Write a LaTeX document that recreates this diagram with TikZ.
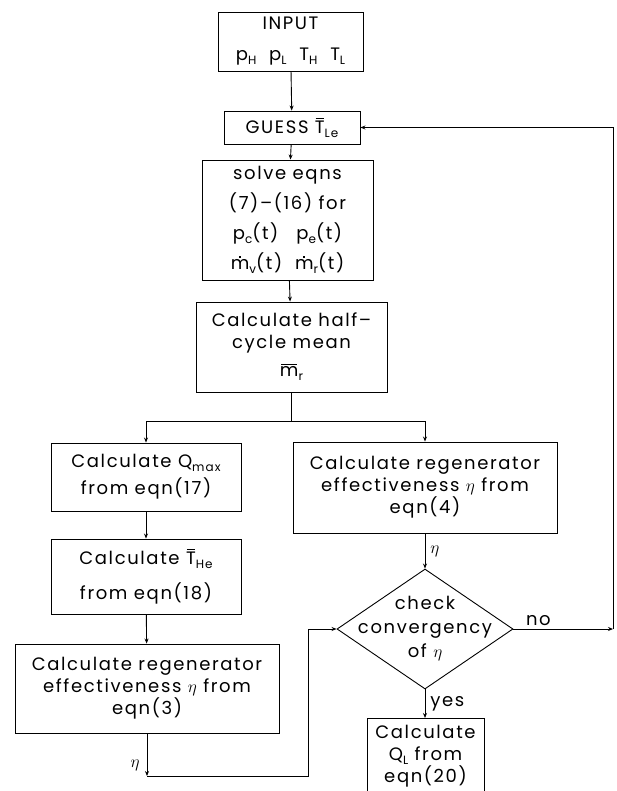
\documentclass[tikz,border=0pt]{standalone}
\usepackage{fontspec}
\setmainfont{Poppins}[LetterSpace=9]
\usetikzlibrary{arrows.meta,shapes.geometric}
\newcommand\lo[1]{\raisebox{-0.4ex}{\fontsize{12}{12}\selectfont #1}}
\newcommand\ovl[1]{\setbox0\hbox{#1}\rlap{\hbox to\wd0{\hss\raisebox{\dimexpr\ht0+2pt\relax}{\rule{0.85\wd0}{0.9pt}}\hss}}#1}
\newcommand\mdot{\setbox0\hbox{m}\rlap{\hbox to\wd0{\hss\raisebox{\dimexpr\ht0+2pt\relax}{\rule{1.8pt}{1.8pt}}\hss}}m}
\begin{document}
\begin{tikzpicture}[x=1pt,y=-1pt,
  box/.style={draw, line width=0.9pt, align=center, inner sep=0pt, font=\fontsize{18}{22}\selectfont},
  txt/.style={align=center, inner sep=0pt, font=\fontsize{18}{22}\selectfont},
  link/.style={line width=0.9pt, -{Stealth[length=5pt,width=4pt]}},
  plain/.style={line width=0.9pt}]
\useasboundingbox (0,0) rectangle (616,791);
\clip (0,0) rectangle (616,791);
\node[box, minimum width=145, minimum height=59] (input) at (290.5,41.5)
  {INPUT\\[9pt] p\lo{H}\ \ p\lo{L}\ \ T\lo{H}\ \ T\lo{L}};
\node[box, minimum width=136, minimum height=33] (guess) at (292,127.5)
  {GUESS \ovl{T}\lo{Le}};
\node[box, minimum width=171, minimum height=120, font=\fontsize{18}{30}\selectfont] (solve) at (287.5,220)
  {solve eqns\\(7)--(16) for\\p\lo{c}(t)\quad p\lo{e}(t)\\\mdot\lo{v}(t)\ \ \mdot\lo{r}(t)};
\node[box, minimum width=191, minimum height=90] (half) at (291.5,347)
  {Calculate half--\\cycle mean\\[6pt]\ovl{m}\lo{r}};
\node[box, minimum width=190, minimum height=68, font=\fontsize{18}{27}\selectfont] (qmax) at (146,477)
  {Calculate Q\lo{max}\\from eqn(17)};
\node[box, minimum width=190, minimum height=75, font=\fontsize{18}{35}\selectfont] (the) at (146,576.5)
  {Calculate \ovl{T}\lo{He}\\from eqn(18)};
\node[box, minimum width=264, minimum height=89] (reg3) at (147,688.5)
  {Calculate regenerator\\effectiveness $\eta$ from\\eqn(3)};
\node[box, minimum width=264, minimum height=91] (reg4) at (425,487.5)
  {Calculate regenerator\\effectiveness $\eta$ from\\eqn(4)};
\node[draw, line width=0.9pt, diamond, minimum width=176, minimum height=120, inner sep=0pt] (dia) at (425,629) {};
\node[txt, font=\fontsize{18}{24}\selectfont] (diatext) at (dia.center) {check\\convergency\\of $\eta$};
\node[box, minimum width=117, minimum height=76, anchor=north] (ql) at (425.5,718)
  {Calculate\\Q\lo{L} from\\eqn(20)};
\coordinate (split) at (291.5,421);
\coordinate (c1) at (147,776);
\coordinate (c2) at (308,776);
\coordinate (c3) at (613,629);
\draw[link] (input) -- (guess);
\draw[link] (guess) -- (solve);
\draw[link] (solve) -- (half);
\draw[plain] (half.south) -- (split);
\draw[link] (split) -| (qmax.north);
\draw[link] (split) -| (reg4.north);
\draw[link] (qmax) -- (the);
\draw[link] (the) -- (reg3);
\draw[link] (reg4) -- node[txt, right=5pt] (eta1) {$\eta$} (dia);
\draw[link] (reg3.south -| c1) -- node[txt, pos=0.75, left=7pt] (eta2) {$\eta$} (c1);
\draw[link] (c1) -- (c2) |- (dia.west);
\draw[link] (dia.east) -- node[txt, above=3pt, pos=0.25] (no) {no} (c3);
\draw[link] (c3) |- (guess.east);
\draw[link] (dia.south) -- node[txt, right=5pt] (yes) {yes} (ql.north -| dia.south);
\end{tikzpicture}
\end{document}
